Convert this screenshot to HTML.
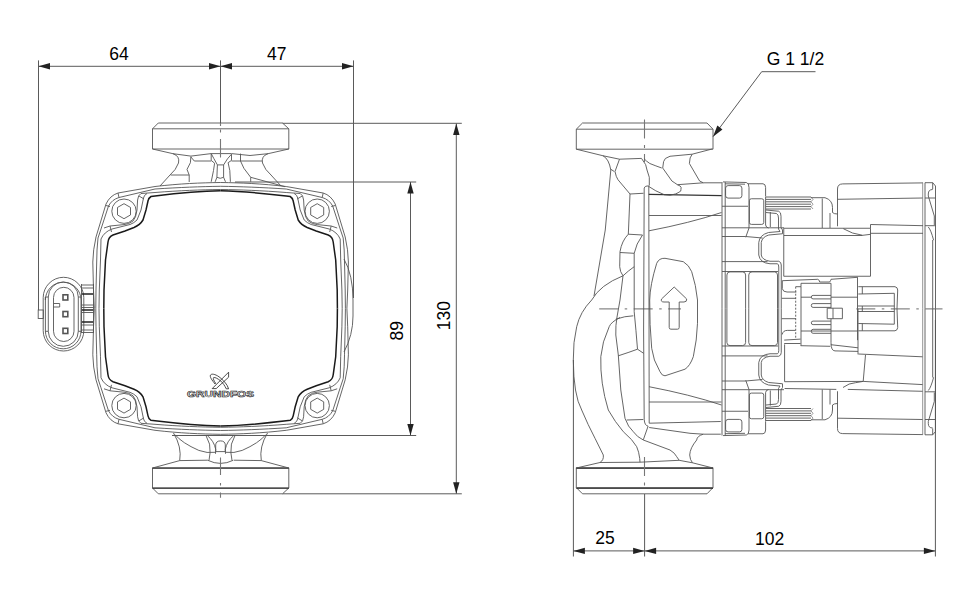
<!DOCTYPE html>
<html><head><meta charset="utf-8"><style>
html,body{margin:0;padding:0;background:#fff;width:976px;height:600px;overflow:hidden}
svg{display:block}
text{font-family:"Liberation Sans",sans-serif;font-size:17.5px;fill:#000}
text.logo{font-size:8.8px;font-weight:bold;fill:#fff;stroke:#111;stroke-width:0.55}
g{fill:none;stroke:#555;stroke-width:0.9}
.dim line,.dim polyline{stroke:#5a5a5a;stroke-width:1}
.g{stroke:#888}
.b{stroke-width:1.5;stroke:#1a1a1a}
.cl{stroke:#777;stroke-dasharray:14 3 2 3}
.cl3{stroke:#777;stroke-width:1.1}
.cl2{stroke:#888;stroke-width:1.1;stroke-dasharray:19 6.5 2.5 6.5}
.pin{stroke-width:1.6}
.b2{stroke-width:1.2;stroke:#333}
</style></head><body>
<svg width="976" height="600" viewBox="0 0 976 600">
<g class="dim"><line x1="38.5" y1="66.3" x2="353.5" y2="66.3"/><line x1="38.5" y1="60.4" x2="38.5" y2="310"/><line x1="220.5" y1="60.4" x2="220.5" y2="123"/><line x1="353.5" y1="60.4" x2="353.5" y2="298"/><path d="M38.5,66.3 L50.00,69.50 L50.00,63.10 Z" fill="#222" stroke="none"/><path d="M220.5,66.3 L209.00,63.10 L209.00,69.50 Z" fill="#222" stroke="none"/><path d="M220.5,66.3 L232.00,69.50 L232.00,63.10 Z" fill="#222" stroke="none"/><path d="M353.5,66.3 L342.00,63.10 L342.00,69.50 Z" fill="#222" stroke="none"/><line x1="456.3" y1="123.5" x2="456.3" y2="493.7"/><line x1="282.5" y1="123.3" x2="461.8" y2="123.3" class="g"/><line x1="282.5" y1="493.8" x2="461.8" y2="493.8" class="g"/><path d="M456.3,123.5 L453.10,135.00 L459.50,135.00 Z" fill="#222" stroke="none"/><path d="M456.3,493.7 L459.50,482.20 L453.10,482.20 Z" fill="#222" stroke="none"/><line x1="410.5" y1="182" x2="410.5" y2="435.5"/><line x1="235" y1="182" x2="416.2" y2="182" class="g"/><line x1="172" y1="435.5" x2="416.2" y2="435.5"/><path d="M410.5,182 L407.30,193.50 L413.70,193.50 Z" fill="#222" stroke="none"/><path d="M410.5,435.5 L413.70,424.00 L407.30,424.00 Z" fill="#222" stroke="none"/><line x1="573.4" y1="550.9" x2="935.4" y2="550.9"/><line x1="573.4" y1="360" x2="573.4" y2="556.5"/><line x1="644.6" y1="494" x2="644.6" y2="556.5"/><line x1="935.4" y1="320" x2="935.4" y2="556.5"/><path d="M573.4,550.9 L584.90,554.10 L584.90,547.70 Z" fill="#222" stroke="none"/><path d="M644.6,550.9 L633.10,547.70 L633.10,554.10 Z" fill="#222" stroke="none"/><path d="M644.6,550.9 L656.10,554.10 L656.10,547.70 Z" fill="#222" stroke="none"/><path d="M935.4,550.9 L923.90,547.70 L923.90,554.10 Z" fill="#222" stroke="none"/><polyline points="815.5,71.7 761.7,71.7 713,136.7"/><path d="M713,136.7 L722.46,129.42 L717.33,125.58 Z" fill="#222" stroke="none"/></g>
<text x="118.9" y="60" text-anchor="middle">64</text>
<text x="276.8" y="60" text-anchor="middle">47</text>
<text x="605" y="543.9" text-anchor="middle">25</text>
<text x="769.6" y="544.5" text-anchor="middle">102</text>
<text x="766.8" y="64.9">G 1 1/2</text>
<text transform="translate(402.7,330.8) rotate(-90)" text-anchor="middle">89</text>
<text transform="translate(450,315.7) rotate(-90)" text-anchor="middle">130</text>
<g class="lv"><path d="M158.3,123 L282.5,123 L288.8,128.8 L288.8,149 L152.5,149 L152.5,128.8 Z"/>
<line x1="152.5" y1="128.8" x2="288.8" y2="128.8"/><g transform="translate(0,616.8) scale(1,-1)"><path d="M158.3,123 L282.5,123 L288.8,128.8 L288.8,149 L152.5,149 L152.5,128.8 Z"/>
<line x1="152.5" y1="128.8" x2="288.8" y2="128.8"/></g><path d="M152.5,468.2 L288.8,468.2 M152.5,488.2 L288.8,488.2" stroke="#222" stroke-width="1"/>
<path d="M220.6,182.5 C200,182.8 180,183.6 155,186.5 L118,193 Q110,195.5 106,204 L96,237 Q93,250 92.8,262 L93.5,290 L94.3,308.4"/>
<path d="M220.6,186.3 C200,186.6 180,187.4 155,189 L119,197.5 Q112,199.5 108.5,206 L101,229 L98,238 Q96.7,250 96.7,262 L96,290 L95.8,308.4"/>
<path d="M220.6,189.5 C200,189.8 180,190.5 155,192.5 L141,193.5 Q138,195 137.6,200 L137,210 Q136,218 133,221 Q129,224.2 124,224.6 L110,226 L104,228"/>
<path d="M147,193.5 Q144,195 143.5,198 L141,210 L137,220 Q134,223 130,224.5 L112,229 Q104,232 101,239 L100.5,260 L99.3,290 L99,308.4"/>
<path class="b" d="M220.6,190.8 C200,191.2 180,193 155,196 L151,196.5 Q148.5,198 148,201 L146,210 L143,220 Q140,225 134,227.5 L125,231 L113,235 Q108.5,237 108,242 L105.5,260 L104,290 L103.8,308.4"/>
<line x1="118" y1="193" x2="119" y2="197.5"/>
<line x1="106" y1="205.5" x2="110" y2="206.5"/>
<line x1="139" y1="196" x2="144" y2="199"/>
<line x1="110" y1="226" x2="111.5" y2="232"/>
<circle cx="124" cy="211.2" r="12.2"/>
<path d="M124,203.7 L130.5,207.45 L130.5,214.95 L124,218.7 L117.5,214.95 L117.5,207.45 Z"/>
<g transform="translate(441.2,0) scale(-1,1)">
<path d="M220.6,182.5 C200,182.8 180,183.6 155,186.5 L118,193 Q110,195.5 106,204 L96,237 Q93,250 92.8,262 L93.5,290 L94.3,308.4"/>
<path d="M220.6,186.3 C200,186.6 180,187.4 155,189 L119,197.5 Q112,199.5 108.5,206 L101,229 L98,238 Q96.7,250 96.7,262 L96,290 L95.8,308.4"/>
<path d="M220.6,189.5 C200,189.8 180,190.5 155,192.5 L141,193.5 Q138,195 137.6,200 L137,210 Q136,218 133,221 Q129,224.2 124,224.6 L110,226 L104,228"/>
<path d="M147,193.5 Q144,195 143.5,198 L141,210 L137,220 Q134,223 130,224.5 L112,229 Q104,232 101,239 L100.5,260 L99.3,290 L99,308.4"/>
<path class="b" d="M220.6,190.8 C200,191.2 180,193 155,196 L151,196.5 Q148.5,198 148,201 L146,210 L143,220 Q140,225 134,227.5 L125,231 L113,235 Q108.5,237 108,242 L105.5,260 L104,290 L103.8,308.4"/>
<line x1="118" y1="193" x2="119" y2="197.5"/>
<line x1="106" y1="205.5" x2="110" y2="206.5"/>
<line x1="139" y1="196" x2="144" y2="199"/>
<line x1="110" y1="226" x2="111.5" y2="232"/>
<circle cx="124" cy="211.2" r="12.2"/>
<path d="M124,203.7 L130.5,207.45 L130.5,214.95 L124,218.7 L117.5,214.95 L117.5,207.45 Z"/>
</g><g transform="translate(0,616.8) scale(1,-1)">
<path d="M220.6,182.5 C200,182.8 180,183.6 155,186.5 L118,193 Q110,195.5 106,204 L96,237 Q93,250 92.8,262 L93.5,290 L94.3,308.4"/>
<path d="M220.6,186.3 C200,186.6 180,187.4 155,189 L119,197.5 Q112,199.5 108.5,206 L101,229 L98,238 Q96.7,250 96.7,262 L96,290 L95.8,308.4"/>
<path d="M220.6,189.5 C200,189.8 180,190.5 155,192.5 L141,193.5 Q138,195 137.6,200 L137,210 Q136,218 133,221 Q129,224.2 124,224.6 L110,226 L104,228"/>
<path d="M147,193.5 Q144,195 143.5,198 L141,210 L137,220 Q134,223 130,224.5 L112,229 Q104,232 101,239 L100.5,260 L99.3,290 L99,308.4"/>
<path class="b" d="M220.6,190.8 C200,191.2 180,193 155,196 L151,196.5 Q148.5,198 148,201 L146,210 L143,220 Q140,225 134,227.5 L125,231 L113,235 Q108.5,237 108,242 L105.5,260 L104,290 L103.8,308.4"/>
<line x1="118" y1="193" x2="119" y2="197.5"/>
<line x1="106" y1="205.5" x2="110" y2="206.5"/>
<line x1="139" y1="196" x2="144" y2="199"/>
<line x1="110" y1="226" x2="111.5" y2="232"/>
<circle cx="124" cy="211.2" r="12.2"/>
<path d="M124,203.7 L130.5,207.45 L130.5,214.95 L124,218.7 L117.5,214.95 L117.5,207.45 Z"/>
</g><g transform="translate(441.2,616.8) scale(-1,-1)">
<path d="M220.6,182.5 C200,182.8 180,183.6 155,186.5 L118,193 Q110,195.5 106,204 L96,237 Q93,250 92.8,262 L93.5,290 L94.3,308.4"/>
<path d="M220.6,186.3 C200,186.6 180,187.4 155,189 L119,197.5 Q112,199.5 108.5,206 L101,229 L98,238 Q96.7,250 96.7,262 L96,290 L95.8,308.4"/>
<path d="M220.6,189.5 C200,189.8 180,190.5 155,192.5 L141,193.5 Q138,195 137.6,200 L137,210 Q136,218 133,221 Q129,224.2 124,224.6 L110,226 L104,228"/>
<path d="M147,193.5 Q144,195 143.5,198 L141,210 L137,220 Q134,223 130,224.5 L112,229 Q104,232 101,239 L100.5,260 L99.3,290 L99,308.4"/>
<path class="b" d="M220.6,190.8 C200,191.2 180,193 155,196 L151,196.5 Q148.5,198 148,201 L146,210 L143,220 Q140,225 134,227.5 L125,231 L113,235 Q108.5,237 108,242 L105.5,260 L104,290 L103.8,308.4"/>
<line x1="118" y1="193" x2="119" y2="197.5"/>
<line x1="106" y1="205.5" x2="110" y2="206.5"/>
<line x1="139" y1="196" x2="144" y2="199"/>
<line x1="110" y1="226" x2="111.5" y2="232"/>
<circle cx="124" cy="211.2" r="12.2"/>
<path d="M124,203.7 L130.5,207.45 L130.5,214.95 L124,218.7 L117.5,214.95 L117.5,207.45 Z"/>
</g><path d="M344,259 Q353,275 353,300 L353,316 Q353,335 344,352"/><path d="M152.5,149 L173,153.7 L190.9,156.1 L211.2,153.6 L231.5,153.6 L250,155.5 L268,153.7 L288.8,149"/>
<path d="M173,153.7 Q180,156 178.5,163 Q176,170 170,175 L160,186"/>
<path d="M268,153.7 Q261,156 262.5,163 Q265,170 271,175 L281,186"/>
<line x1="170.6" y1="175" x2="189.2" y2="175"/>
<path d="M190.9,156.5 L190.4,162.7 L187,169.4 L189.2,175 L189.2,182"/>
<path d="M190.9,157 L194.3,161 L211.2,161"/>
<path d="M211.2,153.6 Q213.5,158 217.4,164.9 L223.6,164.9 Q227.5,158 231.5,154.2"/>
<path d="M217.4,164.9 L216.9,177.3 Q220.2,179.3 223.6,177.3 L223.6,164.9"/>
<path d="M216.9,177.3 L215.2,181.8 M223.6,177.3 L225.5,181.8"/>
<path d="M211.2,153.6 L211.2,160.4 L214.6,163.2 L213.5,170.5 L211.2,181.8"/>
<path d="M231.5,154.2 L231.5,160.4 L228.1,162.7 L229.8,170.5 L230.4,181.8"/>
<path d="M231.5,161 L262,161"/>
<path d="M240.5,153.6 L240.5,161 L243.9,168.3 L250.7,177.3 L250.7,181.8"/>
<path d="M250.7,177.3 L285,186.7"/>
<path d="M152.5,468 L179.7,460.6 L207.8,460.2 M233.8,460.2 L261.3,460.6 L288.8,468"/>
<path d="M173.5,433 Q182,447 179.7,460.6"/>
<path d="M267.5,433 Q259,447 261.3,460.6"/>
<path d="M175.1,434.7 Q182,443 198.8,450.4 Q207,453.5 215.5,452.3"/>
<path d="M265.8,434.7 Q259,443 242.2,450.4 Q234,453.5 225.5,452.3"/>
<path d="M206.1,435.8 Q211,444 210.1,452.7 L209,460.4"/>
<path d="M207.5,435.8 Q214,441 215.7,449.3 L215.5,453.8"/>
<path d="M234.9,435.8 Q230,444 230.9,452.7 L232,460.4"/>
<path d="M233.5,435.8 Q227,441 225.3,449.3 L225.5,453.8"/>
<path d="M215.7,451.6 L215.7,444.8 Q216,440.9 220.5,440.9 Q225,440.9 225.3,444.8 L225.3,451.6 Z"/>
<path d="M207.8,460.3 Q220.5,466.5 233.2,460.3"/>
<rect x="38.2" y="310" width="5.1" height="8.5"/>
<rect x="43.2" y="277.3" width="40.6" height="73.7" rx="20.3"/>
<path d="M45.4,297 L45.4,300 A17.8,17.8 0 0 1 81,300 L81,331 A17.8,17.8 0 0 1 45.4,331 L45.4,297"/>
<path d="M48.3,297 A15,15 0 0 1 78.3,297 L78.3,331.3 A15,15 0 0 1 48.3,331.3 Z"/>
<line x1="45.4" y1="297" x2="48.3" y2="297"/><line x1="78.3" y1="297" x2="81" y2="297"/>
<line x1="45.4" y1="331.3" x2="48.3" y2="331.3"/><line x1="78.3" y1="331.3" x2="81" y2="331.3"/>
<rect x="53.5" y="287.3" width="20.5" height="54.2" rx="10.25"/>
<path d="M53.5,303.5 L59.7,303.5 L59.7,307 L53.5,307"/>
<rect x="63" y="294.8" width="4.8" height="5.2" class="pin"/>
<rect x="63" y="311.5" width="4.8" height="5.2" class="pin"/>
<rect x="63" y="328.3" width="4.8" height="5.2" class="pin"/>
<path d="M81.5,285 L93.5,285 M81.5,288 L93.5,288 M81.5,305 L93.5,305 M81.5,307.5 L93.5,307.5 M81.5,312.5 L93.5,312.5 M81.5,325 L93.5,325 M81.5,330 L93.5,330 M81.5,332.5 L93.5,332.5"/>
<path d="M81.5,294 L93.5,294 M81.5,310 L93.5,310 M81.5,322 L93.5,322" stroke-width="1.4" stroke="#222"/>
<line x1="81.5" y1="284" x2="81.5" y2="333"/>
<line x1="93.5" y1="284" x2="93.5" y2="333"/>
<path d="M228.6,372.2 L228.6,377.2 L216.2,388.6 L212.2,388.6 Z" stroke-width="0.8" stroke="#222"/>
<path d="M215,384 C212,380 209.5,377 210.5,375 C211.5,373.5 215,374 219,376.8 C222,379 225,382 227.2,385.5 L228.6,388.8 L226.2,388.8 C225,386 223,383 220.5,380.8 C218,378.8 215,377 213.6,377.6 C212.8,378.5 214,381 215.6,383.2 Z" stroke-width="0.8" stroke="#222"/>
<text x="187" y="397" textLength="67" lengthAdjust="spacingAndGlyphs" class="logo">GRUNDFOS</text>
<path d="M220.5,123 L220.5,126 M220.5,129.5 L220.5,132.5 M220.5,139 L220.5,157.5 M220.5,457.5 L220.5,475 M220.5,483 L220.5,485.5 M220.5,492.4 L220.5,497.7" class="cl3"/></g>
<g class="rv"><path d="M582.5,123 L707,123 L713,129.2 L713,149.2 L576.3,149.2 L576.3,129.2 Z"/>
<line x1="576.3" y1="129.2" x2="713" y2="129.2"/><g transform="translate(0,616.8) scale(1,-1)"><path d="M582.5,123 L707,123 L713,129.2 L713,149.2 L576.3,149.2 L576.3,129.2 Z"/>
<line x1="576.3" y1="129.2" x2="713" y2="129.2"/></g><path d="M576.3,468.3 L713,468.3 M576.3,488.3 L713,488.3" stroke="#222" stroke-width="1"/><path d="M644.5,119.5 L644.5,138.5 M644.5,145 L644.5,148 M644.5,154 L644.5,162 M644.5,457 L644.5,476 M644.5,482.5 L644.5,485.5" class="cl3"/><line x1="599.2" y1="308.9" x2="681" y2="308.9" class="cl2"/><line x1="856.3" y1="308.9" x2="942.5" y2="308.9" class="cl2"/>
<path d="M641.5,158.4 L619.5,159.2 L603,155.75 L576.3,149.2"/>
<path d="M603,155.75 Q609,159 610.8,170 L605.25,230 L594,296"/>
<line x1="610.8" y1="169.25" x2="614.25" y2="171.5"/>
<path d="M619.5,159.2 L615,171.5 Q616,177 618,179.75 L630,194 L643.5,193.25"/>
<path d="M630,194 L628.5,230 L628.3,234.2 L642.5,235"/>
<path d="M628.3,234.2 Q621.7,241 620,251.7 L619.7,266.7 Q620,272 623,275.8 L620,300 L617,317 Q615.5,325 615.8,335 L618.3,355 L620.8,390 L625,418.3 Q628,427 633.3,431.7 Q637,437 643.3,440 L670,450 Q675,453 676.7,456.7 L679.2,460.3"/>
<path d="M642.5,235 Q636,244 634.2,253.3 L634.2,311.7 Q636,330 637.5,349.2 Q630,352 618.3,355.8"/>
<path d="M620,252.5 L634.2,253.3"/>
<path d="M634.2,266.7 Q628,271 623,275.8 Q600,285 591.7,300 Q580,312 576.7,326.7 Q573,342 573.3,360 Q573.5,395 581.7,410 Q588,425 595,438.3 L603.3,455 Q604,460 600,462.5"/>
<path d="M620,317.5 Q611,322 609.2,326.7 Q602,342 600.8,356.7 Q600,383 608.3,410 Q615,422 623.3,431.7 Q633,440 636.7,446.7 Q639,452 639.7,458.3 L640,462.2"/>
<path d="M615.8,319.2 Q625,316 633.3,315.8"/>
<path d="M637.5,349.2 L643.6,353.3"/>
<path d="M644.2,188 L643.6,330 L644.2,419.3 Q644.5,425.5 648.1,426.2 L643.3,439.8"/>
<line x1="648.8" y1="186" x2="649.2" y2="423.2"/>
<path d="M648.8,194.4 L721.7,195.6" class="b2"/>
<path d="M649.2,423.2 L720.8,421.5"/>
<path d="M626.7,420 L643.3,419.5"/>
<path d="M576.3,468 L600,462.5 L640,462.2 L679.2,460.3 L692.5,462.8 L713,468"/>
<path d="M720.8,434.2 L703.3,434.2 Q697,436 696.7,440 Q690,448 689.7,455 Q690,460 692.5,462.8"/>
<path d="M649.2,427.5 L690,433.3 L703.3,434.2"/>
<!-- top lobes -->
<path d="M641.5,158.4 Q647,165 647,170 L649.3,177.3 L649.3,185.6"/>
<path d="M644.2,158.8 Q646,161 649.8,163.5 Q656,166 661.75,168"/>
<path d="M712.5,148.9 L692.2,154.2 L670,156.25 Q664,158 663.6,161.6 L662.7,168 L671.9,181 Q675,183 677.4,184.7 Q681,186 681.1,187.4 Q681,190 680.7,191.1 Q678,193 675.6,193.9 L670,195.3 L664.5,194.8 Q655,191 648.8,186.5"/>
<path d="M692.2,154.2 Q689.5,157 689.4,163.5 L699.6,181 L703.3,182.8"/>
<path d="M677.4,184.7 L703.3,182.8 L721.7,182.8"/>
<path d="M644.2,188 Q645,186 647,186 L649,186"/>
<!-- oval badge and arrow -->
<path d="M649.7,300 Q650,285 656.7,263.3 Q659,258 665,258.3 L683.3,261.7 Q689,265 691.7,271.7 Q696,285 697.5,300 L697.5,323.3 Q697,340 693.3,356.7 Q690,366 685,369.2 L665,375.8 Q662,376 660,371.7 Q653,360 651.7,348.3 Q649.5,325 649.7,300 Z"/>
<path d="M674.2,287 L686.7,299 Q687,302 684,302 L679.2,302 L679.2,327.5 Q679.2,329.2 677.5,329.2 L670.9,329.2 Q669.2,329.2 669.2,327.5 L669.2,302 L664,302 Q660.5,302 661.5,299 Z"/>

<line x1="649" y1="215.5" x2="721.5" y2="215.5"/>
<path d="M649,230.8 Q690,223 721.5,212.5"/>
<line x1="722" y1="182" x2="722" y2="308.75"/>
<line x1="725.2" y1="182" x2="725.2" y2="308.75"/>
<path d="M723,181.9 L746.3,182.5 Q749,183 749,187.5 L749,228 L745.7,237.3"/>
<path d="M725,183.8 L745,184.2"/>
<path d="M765.6,196.5 L765.6,225 Q766,227.5 768.5,228"/>
<path d="M770.3,212 L770.3,227"/>
<rect x="725.6" y="185.6" width="16.3" height="12.5" rx="2.5"/>
<path d="M748,183.75 L763,183.75 Q765.6,184 765.6,187.5 L765.6,196.25"/>
<rect x="749.4" y="198.75" width="14.35" height="25.65" rx="2"/>
<line x1="722" y1="206.25" x2="748" y2="206.25"/>
<line x1="722" y1="227.8" x2="784" y2="227.8"/>
<path d="M722,236.5 L745.6,236.5 L762.5,238"/>
<path d="M766,197 L811,197 M766,199.4 L811,199.4 M766,201.8 L811,201.8 M766,204.2 L811,204.2 M766,206.6 L811,206.6 M766,209 L811,209"/>
<path d="M811,197 L813,199.4 L811,201.8 L813,204.2 L811,206.6 L813,209" stroke-width="0.6"/>
<path d="M811,197.7 L825,197.7 Q832.5,200 832.5,207.5 L832.5,212.5 Q834,214 837.5,214"/>
<line x1="822.25" y1="198.5" x2="822.25" y2="228"/>
<line x1="830" y1="213" x2="830" y2="228"/>
<path d="M766,210 L778.75,211.25 Q781,212 781,216.25 L781,227.5 L782.5,230 L782.5,233.75 L768.75,235 Q762,237 761.25,242.5 L761.25,255 Q762,260 770,261.25 L778.75,261.25 Q781.25,262 781.25,265 L781.25,308.75"/>
<path d="M766,212.5 L776.5,213.5 Q778.5,214.5 778.5,218 L778.5,229 L780,231.5 L768.5,232.5 Q759.5,235 758.75,242.5 L758.75,255 Q760,263 770,263.75 L777.5,263.75 Q778.75,264.5 778.75,267 L778.75,308.75"/>
<line x1="722" y1="261.6" x2="767.5" y2="261.6"/>
<line x1="722" y1="271.5" x2="778" y2="271.5"/>
<path d="M726.9,308.75 L726.9,275 Q726.9,271.9 730,271.9 L742.5,271.9 Q745.6,271.9 745.6,275 L745.6,308.75"/>
<path d="M748.75,308.75 L748.75,275 Q748.75,271.9 752,271.9 L774.5,271.9 Q777.5,271.9 777.5,275 L777.5,308.75"/>
<path d="M837.5,226.25 L837.5,189 Q837.5,184 842.7,183.9 L923,182.9"/>
<path d="M837.5,199.3 L923,198"/>
<line x1="922.7" y1="182.7" x2="922.7" y2="308.75" class="g"/>
<line x1="925" y1="182.7" x2="925" y2="308.75"/>
<path d="M925,182.7 L932.7,182.7 L935.5,186 L935.5,308.75"/>
<line x1="932.7" y1="240" x2="932.7" y2="308.75"/>
<line x1="932.7" y1="182.7" x2="932.7" y2="189"/>
<path d="M932.7,189.5 Q928.3,189.5 928.3,194 L928.3,196 L934.3,216 L934.3,225"/>
<line x1="925" y1="198" x2="935.5" y2="198"/>
<line x1="925" y1="225.7" x2="935.5" y2="225.7"/>
<path d="M928.3,227 Q931,230 933.6,240.2"/>
<path d="M857.5,277.3 L857.5,308.75"/>
<path d="M858.3,286.7 L895,286.7 Q897.7,287.3 897.7,290 L897,308.75"/>
<path d="M858.3,294 L894.3,293.3 L894.3,308.75"/>
<line x1="862.3" y1="286.7" x2="862.3" y2="294"/>
<line x1="857.7" y1="306" x2="894.3" y2="306"/>
<g transform="translate(0,617.5) scale(1,-1)">
<line x1="649" y1="215.5" x2="721.5" y2="215.5"/>
<path d="M649,230.8 Q690,223 721.5,212.5"/>
<line x1="722" y1="182" x2="722" y2="308.75"/>
<line x1="725.2" y1="182" x2="725.2" y2="308.75"/>
<path d="M723,181.9 L746.3,182.5 Q749,183 749,187.5 L749,228 L745.7,237.3"/>
<path d="M725,183.8 L745,184.2"/>
<path d="M765.6,196.5 L765.6,225 Q766,227.5 768.5,228"/>
<path d="M770.3,212 L770.3,227"/>
<rect x="725.6" y="185.6" width="16.3" height="12.5" rx="2.5"/>
<path d="M748,183.75 L763,183.75 Q765.6,184 765.6,187.5 L765.6,196.25"/>
<rect x="749.4" y="198.75" width="14.35" height="25.65" rx="2"/>
<line x1="722" y1="206.25" x2="748" y2="206.25"/>
<line x1="722" y1="227.8" x2="784" y2="227.8"/>
<path d="M722,236.5 L745.6,236.5 L762.5,238"/>
<path d="M766,197 L811,197 M766,199.4 L811,199.4 M766,201.8 L811,201.8 M766,204.2 L811,204.2 M766,206.6 L811,206.6 M766,209 L811,209"/>
<path d="M811,197 L813,199.4 L811,201.8 L813,204.2 L811,206.6 L813,209" stroke-width="0.6"/>
<path d="M811,197.7 L825,197.7 Q832.5,200 832.5,207.5 L832.5,212.5 Q834,214 837.5,214"/>
<line x1="822.25" y1="198.5" x2="822.25" y2="228"/>
<line x1="830" y1="213" x2="830" y2="228"/>
<path d="M766,210 L778.75,211.25 Q781,212 781,216.25 L781,227.5 L782.5,230 L782.5,233.75 L768.75,235 Q762,237 761.25,242.5 L761.25,255 Q762,260 770,261.25 L778.75,261.25 Q781.25,262 781.25,265 L781.25,308.75"/>
<path d="M766,212.5 L776.5,213.5 Q778.5,214.5 778.5,218 L778.5,229 L780,231.5 L768.5,232.5 Q759.5,235 758.75,242.5 L758.75,255 Q760,263 770,263.75 L777.5,263.75 Q778.75,264.5 778.75,267 L778.75,308.75"/>
<line x1="722" y1="261.6" x2="767.5" y2="261.6"/>
<line x1="722" y1="271.5" x2="778" y2="271.5"/>
<path d="M726.9,308.75 L726.9,275 Q726.9,271.9 730,271.9 L742.5,271.9 Q745.6,271.9 745.6,275 L745.6,308.75"/>
<path d="M748.75,308.75 L748.75,275 Q748.75,271.9 752,271.9 L774.5,271.9 Q777.5,271.9 777.5,275 L777.5,308.75"/>
<path d="M837.5,226.25 L837.5,189 Q837.5,184 842.7,183.9 L923,182.9"/>
<path d="M837.5,199.3 L923,198"/>
<line x1="922.7" y1="182.7" x2="922.7" y2="308.75" class="g"/>
<line x1="925" y1="182.7" x2="925" y2="308.75"/>
<path d="M925,182.7 L932.7,182.7 L935.5,186 L935.5,308.75"/>
<line x1="932.7" y1="240" x2="932.7" y2="308.75"/>
<line x1="932.7" y1="182.7" x2="932.7" y2="189"/>
<path d="M932.7,189.5 Q928.3,189.5 928.3,194 L928.3,196 L934.3,216 L934.3,225"/>
<line x1="925" y1="198" x2="935.5" y2="198"/>
<line x1="925" y1="225.7" x2="935.5" y2="225.7"/>
<path d="M928.3,227 Q931,230 933.6,240.2"/>
<path d="M857.5,277.3 L857.5,308.75"/>
<path d="M858.3,286.7 L895,286.7 Q897.7,287.3 897.7,290 L897,308.75"/>
<path d="M858.3,294 L894.3,293.3 L894.3,308.75"/>
<line x1="862.3" y1="286.7" x2="862.3" y2="294"/>
<line x1="857.7" y1="306" x2="894.3" y2="306"/>
</g>
<path d="M783.75,276.25 L783.75,228.25 L870.5,228.25 L870.5,276.25 Z"/>
<path d="M784,235.5 L862.5,235.5 M843.3,228.7 Q852,234 862.7,235.3 L870.7,234.3"/>
<path d="M870.5,228.25 L870.5,224.5 L923,225.7"/>
<line x1="870.5" y1="233.3" x2="923" y2="233.3"/>
<path d="M782.3,280.7 L817.7,279.3 Q819.7,280 819.7,282 L829.7,282 Q831,280 831,279.3 L857.7,277.3"/>
<path d="M782.3,280.7 L782.3,288.7 Q783,292 787,292 L796.3,292"/>
<path d="M795.7,286.7 L801,286.7 L801,283.3 L831,283.3"/>
<line x1="795.7" y1="286.7" x2="795.7" y2="338.6" stroke-dasharray="2 1.5"/>
<line x1="801" y1="286.7" x2="801" y2="345.7"/>
<line x1="831" y1="283.3" x2="831" y2="308.2"/><line x1="831" y1="318.7" x2="831" y2="342.7"/>
<path d="M831,342.7 Q831,350.9 835,350.9 L858,351.4"/>
<line x1="781.7" y1="298.3" x2="796" y2="298.3"/>
<line x1="781.7" y1="318.7" x2="796" y2="318.7"/>
<line x1="801" y1="297.2" x2="811.3" y2="297.2"/>
<line x1="831" y1="297.2" x2="857.5" y2="297.2"/>
<line x1="801" y1="331" x2="858" y2="331"/>
<path d="M831,295.4 L813.1,295.4 Q811.3,295.4 811.3,297.15 Q811.3,298.9 813.1,298.9 L831,298.9"/>
<path d="M831,303.6 L813.1,303.6 Q811.3,303.6 811.3,305.5 Q811.3,307.4 813.1,307.4 L831,307.4"/>
<path d="M831,321.1 L813.1,321.1 Q811.3,321.1 811.3,322.85 Q811.3,324.6 813.1,324.6 L831,324.6"/>
<path d="M831,329.3 L813.1,329.3 Q811.3,329.3 811.3,331.3 Q811.3,333.3 813.1,333.3 L831,333.3"/>
<path d="M827.2,308.2 L842.4,308.2 L842.4,318.7 L827.2,318.7 Z M833,308.2 L833,318.7"/>
<path d="M782.2,334.5 Q783,330.4 787.3,330.4 L795.5,330.4"/>
<path d="M784.2,340.1 L800.6,339.1"/>
<path d="M784.2,343.5 L800.6,343.5"/>
<path d="M800.6,345.7 L830.3,346.3"/>
<path d="M830.8,344.7 L858,347.8"/>
<line x1="858" y1="308.75" x2="858" y2="354.4"/>
<path d="M784.6,344.4 L784.6,381.7 L863.2,381.4 L865.5,354.9"/>
<path d="M858.4,354 L922.6,356.8"/>
<path d="M843,387.5 Q849,383 855.5,382.7 L863.2,381.4 L922.6,384.6"/>
<path d="M784.6,388.5 L836.3,389.4"/>
<path d="M847.8,389.4 L922.6,391.3"/>
<line x1="862.3" y1="306" x2="862.3" y2="311.5"/></g>
</svg></body></html>
